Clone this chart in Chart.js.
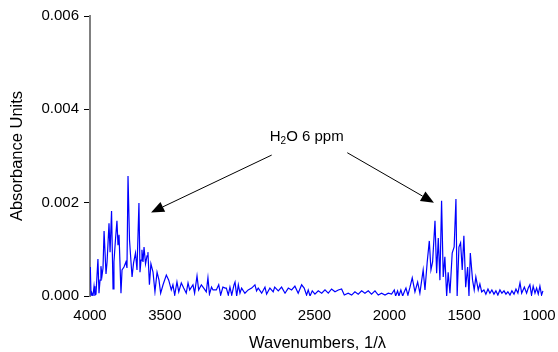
<!DOCTYPE html>
<html>
<head>
<meta charset="utf-8">
<script src="https://cdn.jsdelivr.net/npm/chart.js@4.4.1/dist/chart.umd.min.js"></script>
<style>
  html, body { margin: 0; padding: 0; background: #fff; }
  canvas { display: block; }
</style>
</head>
<body>
<canvas id="spectrum" width="558" height="352"></canvas>
<script>
// spectrum, wavenumber (1/cm) vs absorbance
const wavenumbers = [
  3998, 3993, 3987, 3980, 3973, 3967, 3960, 3947, 3940, 3933, 3927, 3920, 3913, 3906,
  3893, 3886, 3873, 3866, 3856, 3846, 3840, 3830, 3820, 3813, 3806, 3793, 3786, 3773,
  3760, 3753, 3746, 3736, 3726, 3719, 3709, 3696, 3686, 3673, 3666, 3659, 3653, 3646,
  3639, 3629, 3619, 3613, 3603, 3593, 3579, 3566, 3552, 3539, 3528,
  3512, 3490, 3474, 3457, 3446, 3434, 3419, 3407, 3390, 3374, 3357, 3345, 3334, 3312,
  3301, 3285, 3274, 3256, 3240, 3223, 3212, 3202, 3188, 3178, 3156, 3140, 3127, 3112,
  3096, 3089, 3076, 3065, 3053, 3038, 3031, 3020, 3009, 2998, 2987, 2965, 2943, 2920,
  2898, 2887, 2876, 2853, 2831, 2820, 2798, 2776, 2766, 2742, 2720, 2697, 2675, 2653,
  2631, 2609, 2586, 2569, 2553, 2542, 2530, 2515, 2497, 2475, 2452, 2430, 2408, 2386,
  2363, 2341, 2319, 2301, 2275, 2252, 2230, 2208, 2185, 2163, 2141, 2119, 2096, 2074,
  2052, 2029, 2007, 1985, 1967, 1958, 1945, 1936, 1923, 1911, 1900, 1889, 1876, 1862,
  1847, 1829, 1811, 1796, 1774, 1762, 1747, 1733, 1722, 1711, 1695, 1684, 1673, 1662,
  1651, 1640, 1629, 1617, 1607, 1595, 1580, 1567, 1555, 1547, 1535, 1524, 1513, 1502,
  1490, 1477, 1468, 1459, 1444, 1433, 1422, 1406, 1395, 1383, 1368, 1355, 1341, 1328,
  1315, 1301, 1288, 1275, 1261, 1248, 1234, 1221, 1208, 1194, 1181, 1167, 1154, 1141,
  1127, 1116, 1098, 1083, 1072, 1061, 1050, 1039, 1027, 1016, 1005, 994, 983, 974
];
const absorbance = [
  0.00062, 0.00002, 0.00006, 0.00000, 0.00021, 0.00002, 0.00004, 0.00079, 0.00006, 0.00034, 0.00064, 0.00043, 0.00060, 0.00139,
  0.00047, 0.00073, 0.00156, 0.00094, 0.00182, 0.00015, 0.00073, 0.00120, 0.00161, 0.00109, 0.00131, 0.00006, 0.00056, 0.00062,
  0.00073, 0.00060, 0.00257, 0.00120, 0.00073, 0.00041, 0.00071, 0.00092, 0.00056, 0.00199, 0.00051, 0.00077, 0.00099, 0.00073,
  0.00105, 0.00069, 0.00086, 0.00094, 0.00024, 0.00069, 0.00051, 0.00009, 0.00051, 0.00034, 0.00006,
  0.00024, 0.00045, 0.00034, 0.00013, 0.00024, 0.00002, 0.00030, 0.00009, 0.00028, 0.00017, 0.00006, 0.00028, 0.00013, 0.00024,
  0.00006, 0.00043, 0.00013, 0.00024, 0.00017, 0.00009, 0.00039, 0.00004, 0.00019, 0.00013, 0.00013, 0.00024, 0.00002, 0.00019,
  0.00017, 0.00017, 0.00002, 0.00019, 0.00002, 0.00024, 0.00030, 0.00000, 0.00024, 0.00006, 0.00017, 0.00006, 0.00013, 0.00017,
  0.00024, 0.00011, 0.00017, 0.00006, 0.00019, 0.00004, 0.00017, 0.00009, 0.00019, 0.00011, 0.00019, 0.00006, 0.00017, 0.00013,
  0.00021, 0.00006, 0.00024, 0.00017, 0.00002, 0.00013, 0.00000, 0.00011, 0.00004, 0.00011, 0.00006, 0.00013, 0.00006, 0.00015,
  0.00009, 0.00013, 0.00015, 0.00002, 0.00006, 0.00002, 0.00009, 0.00004, 0.00011, 0.00006, 0.00011, 0.00004, 0.00011, 0.00002,
  0.00006, 0.00002, 0.00006, 0.00004, 0.00013, 0.00000, 0.00011, 0.00000, 0.00013, 0.00000, 0.00009, 0.00017, 0.00002, 0.00019,
  0.00039, 0.00009, 0.00030, 0.00006, 0.00056, 0.00013, 0.00073, 0.00118, 0.00056, 0.00073, 0.00161, 0.00049, 0.00124, 0.00034,
  0.00204, 0.00041, 0.00084, 0.00000, 0.00051, 0.00006, 0.00092, 0.00105, 0.00208, 0.00000, 0.00105, 0.00114, 0.00056, 0.00129,
  0.00019, 0.00062, 0.00000, 0.00092, 0.00034, 0.00013, 0.00041, 0.00013, 0.00026, 0.00009, 0.00013, 0.00004, 0.00015, 0.00006,
  0.00013, 0.00004, 0.00011, 0.00002, 0.00013, 0.00006, 0.00011, 0.00004, 0.00009, 0.00002, 0.00011, 0.00004, 0.00015, 0.00006,
  0.00028, 0.00006, 0.00019, 0.00006, 0.00017, 0.00024, 0.00002, 0.00021, 0.00006, 0.00017, 0.00004, 0.00021, 0.00002, 0.00011
];
const xTicks = [4000, 3500, 3000, 2500, 2000, 1500, 1000];
const yTicks = [0, 0.002, 0.004, 0.006];

// callout: label and arrows, in data units
const noteLabel = { x: 2552, y: 0.00343 };
const noteArrows = [
  { from: [2786, 0.00302], to: [3592, 0.00179] },
  { from: [2281, 0.00307], to: [1702, 0.00200] }
];

const FONT = "Arial, 'Liberation Sans', sans-serif";

const calloutPlugin = {
  id: 'callout',
  afterDatasetsDraw(chart) {
    const { ctx, scales: { x, y } } = chart;
    ctx.save();
    ctx.strokeStyle = '#000';
    ctx.fillStyle = '#000';
    ctx.lineWidth = 1;
    noteArrows.forEach(a => {
      const x0 = x.getPixelForValue(a.from[0]), y0 = y.getPixelForValue(a.from[1]);
      const x1 = x.getPixelForValue(a.to[0]), y1 = y.getPixelForValue(a.to[1]);
      const ang = Math.atan2(y1 - y0, x1 - x0);
      const len = 13, half = 5.5;
      const bx = x1 - len * Math.cos(ang), by = y1 - len * Math.sin(ang);
      ctx.beginPath();
      ctx.moveTo(x0, y0);
      ctx.lineTo(bx, by);
      ctx.stroke();
      ctx.beginPath();
      ctx.moveTo(x1, y1);
      ctx.lineTo(bx + half * Math.sin(ang), by - half * Math.cos(ang));
      ctx.lineTo(bx - half * Math.sin(ang), by + half * Math.cos(ang));
      ctx.closePath();
      ctx.fill();
    });

    // H2O with a real subscript
    const cx = x.getPixelForValue(noteLabel.x), cy = y.getPixelForValue(noteLabel.y);
    const big = '15px ' + FONT, small = '10px ' + FONT;
    ctx.textBaseline = 'alphabetic';
    ctx.font = big;
    const wH = ctx.measureText('H').width;
    const wRest = ctx.measureText('O 6 ppm').width;
    ctx.font = small;
    const w2 = ctx.measureText('2').width;
    let px = cx - (wH + w2 + wRest) / 2;
    const base = cy + 5;
    ctx.font = big;
    ctx.fillText('H', px, base);
    px += wH;
    ctx.font = small;
    ctx.fillText('2', px, base + 3);
    px += w2;
    ctx.font = big;
    ctx.fillText('O 6 ppm', px, base);
    ctx.restore();
  }
};

new Chart(document.getElementById('spectrum'), {
  type: 'line',
  data: {
    datasets: [{
      data: wavenumbers.map((w, i) => ({ x: w, y: absorbance[i] })),
      borderColor: '#0000ff',
      borderWidth: 1.2,
      pointRadius: 0,
      tension: 0,
      fill: false
    }]
  },
  options: {
    responsive: false,
    animation: false,
    devicePixelRatio: 1,
    layout: { padding: { top: 16, right: 0, bottom: 0, left: 0 } },
    plugins: { legend: { display: false }, tooltip: { enabled: false } },
    scales: {
      x: {
        type: 'linear',
        reverse: true,
        min: 960,
        max: 4000,
        afterBuildTicks: axis => { axis.ticks = xTicks.map(v => ({ value: v })); },
        afterFit: axis => { axis.height = 56; axis.paddingRight = 13; },
        grid: { display: false, drawTicks: false },
        border: { display: false },
        ticks: {
          color: '#000',
          font: { family: FONT, size: 15 },
          padding: 11,
          maxRotation: 0,
          autoSkip: false,
          callback: v => String(v)
        },
        title: {
          display: true,
          text: 'Wavenumbers, 1/\u03bb',
          color: '#000',
          font: { family: FONT, size: 16.5, lineHeight: 1 },
          padding: { top: 0, bottom: 0 }
        }
      },
      y: {
        min: 0,
        max: 0.006,
        afterBuildTicks: axis => { axis.ticks = yTicks.map(v => ({ value: v })); },
        afterFit: axis => { axis.width = 90; },
        grid: {
          drawOnChartArea: false,
          drawTicks: true,
          tickLength: 6,
          tickColor: '#000',
          tickWidth: 1
        },
        border: { display: true, color: '#808080', width: 2 },
        ticks: {
          color: '#000',
          font: { family: FONT, size: 15 },
          padding: 5,
          callback: v => v.toFixed(3)
        },
        title: {
          display: true,
          text: 'Absorbance Units',
          color: '#000',
          font: { family: FONT, size: 16.5, lineHeight: 1 },
          padding: { top: 9, bottom: 0 }
        }
      }
    }
  },
  plugins: [calloutPlugin]
});
</script>
</body>
</html>
